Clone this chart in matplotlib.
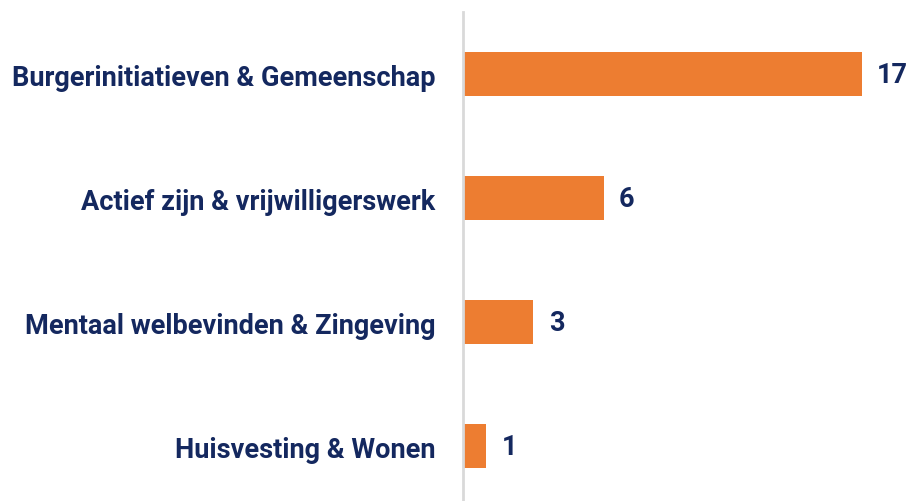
import matplotlib.pyplot as plt

# Data
categories = ["Burgerinitiatieven & Gemeenschap", "Actief zijn & vrijwilligerswerk",
              "Mentaal welbevinden & Zingeving", "Huisvesting & Wonen"]
values = [17, 6, 3, 1]

BAR_COLOR = "#ED7D31"
TEXT_COLOR = "#14285F"

plt.rcParams['font.family'] = ['Roboto', 'DejaVu Sans']

fig = plt.figure(figsize=(9.1, 5.02), dpi=100)
ax = fig.add_axes([463 / 910, 0, (862 - 463) / 910, 1 - 13 / 502])

pos = list(range(len(categories)))
bars = ax.barh(pos, values, height=0.355, color=BAR_COLOR)

ax.set_xlim(0, 17)
ax.set_ylim(3.44, -0.5)

ax.set_yticks(pos)
ax.set_yticklabels(categories, fontsize=19.5, fontweight="bold", color=TEXT_COLOR)
ax.tick_params(axis="y", length=0, pad=20)
ax.set_xticks([])

for side in ["top", "right", "bottom"]:
    ax.spines[side].set_visible(False)
ax.spines["left"].set_color("#D9D9D9")
ax.spines["left"].set_linewidth(2)

# value labels
for b, v in zip(bars, values):
    ax.annotate(str(v), (b.get_width(), b.get_y() + b.get_height() / 2),
                xytext=(11, 0), textcoords="offset points", va="center", ha="left",
                fontsize=19.5, fontweight="bold", color=TEXT_COLOR, annotation_clip=False)

fig.savefig("out.png", dpi=100)
